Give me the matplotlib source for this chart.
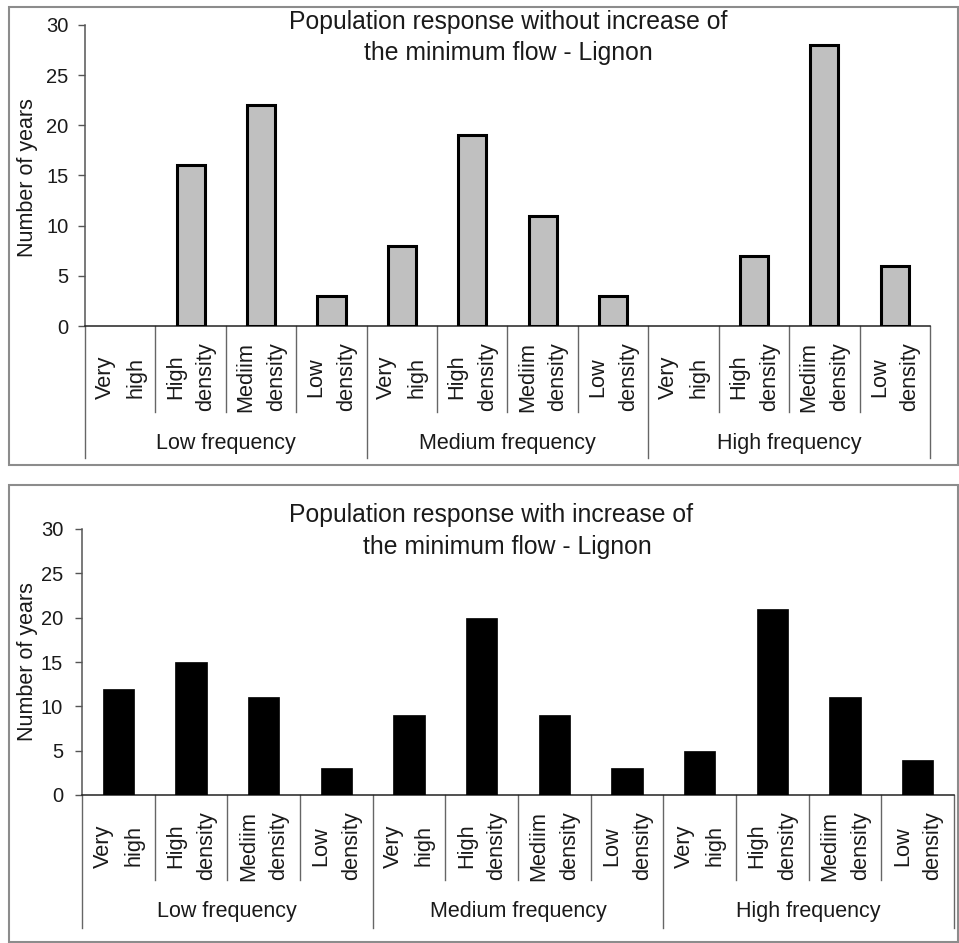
import matplotlib
matplotlib.use('Agg')
import matplotlib.pyplot as plt
from matplotlib.patches import Rectangle
from matplotlib.transforms import blended_transform_factory

# Number of years per category (12 categories: 4 density classes x 3 frequencies)
categories = ['Very\nhigh', 'High\ndensity', 'Mediim\ndensity', 'Low\ndensity'] * 3
groups = ['Low frequency', 'Medium frequency', 'High frequency']
without_increase = [0, 16, 22, 3, 8, 19, 11, 3, 0, 7, 28, 6]
with_increase = [12, 15, 11, 3, 9, 20, 9, 3, 5, 21, 11, 4]

titles = [('Population response without increase of', 'the minimum flow - Lignon'),
          ('Population response with increase of', 'the minimum flow - Lignon')]

plt.rcParams['font.family'] = ['Liberation Sans', 'DejaVu Sans']
TXT = '#1a1a1a'

W, H = 959, 943
fig = plt.figure(figsize=(W / 100, H / 100), dpi=100)


def fx(px):
    return px / W


def fy(py):
    return 1 - py / H


# layout of each panel in pixels
panels = [
    dict(values=without_increase, color='#c0c0c0', edge='black', lw=2.2, width=0.40,
         box=(9, 7, 958, 465), left=85, right=930, top=25, base=326,
         cat_end=412, grp_end=458, tick_y=377, grp_y=443, ylab_y=178,
         title_pos=[(508, 22), (508, 53)], pad=7),
    dict(values=with_increase, color='black', edge='black', lw=0.5, width=0.43,
         box=(9, 485, 958, 942), left=82, right=954, top=529, base=795,
         cat_end=880, grp_end=928, tick_y=846, grp_y=912, ylab_y=662,
         title_pos=[(491, 515), (507, 547)], pad=8.5),
]

for p, title in zip(panels, titles):
    x0, y0, x1, y1 = p['box']
    fig.patches.append(Rectangle((fx(x0), fy(y1)), fx(x1) - fx(x0), (y1 - y0) / H,
                                 transform=fig.transFigure, fill=False,
                                 edgecolor='#8c8c8c', linewidth=1.5))

    ax = fig.add_axes([fx(p['left']), fy(p['base']),
                       fx(p['right']) - fx(p['left']), (p['base'] - p['top']) / H])
    x = [i + 0.5 for i in range(len(categories))]
    lws = [p['lw'] if v > 0 else 0 for v in p['values']]
    ax.bar(x, p['values'], width=p['width'], color=p['color'],
           edgecolor=p['edge'], linewidth=lws, zorder=3)

    ax.set_xlim(0, len(categories))
    ax.set_ylim(0, 30)
    ax.set_yticks(range(0, 31, 5))
    ax.set_xticks([])
    for s in ['top', 'right']:
        ax.spines[s].set_visible(False)
    ax.spines['left'].set_color('#555555')
    ax.spines['left'].set_linewidth(1.1)
    ax.spines['bottom'].set_color('#222222')
    ax.spines['bottom'].set_linewidth(1.1)
    ax.tick_params(axis='y', length=5, width=1, color='#555555',
                   labelsize=14.5, labelcolor=TXT, pad=p['pad'])
    ax.set_facecolor('none')

    # category and group separators below the axis
    tr = blended_transform_factory(ax.transData, fig.transFigure)
    for i in range(len(categories) + 1):
        end = p['grp_end'] if i % 4 == 0 else p['cat_end']
        ax.plot([i, i], [fy(p['base']), fy(end)], transform=tr, color='#666666',
                linewidth=1.0, clip_on=False)

    for i, lab in enumerate(categories):
        ax.text(i + 0.5, fy(p['tick_y']), lab, transform=tr, rotation=90,
                ha='center', va='center', multialignment='center',
                linespacing=1.6, fontsize=15.7, color=TXT)

    for g, name in enumerate(groups):
        ax.text(g * 4 + 2, fy(p['grp_y']), name, transform=tr,
                ha='center', va='center', fontsize=15.5, color=TXT)

    fig.text(fx(28), fy(p['ylab_y']), 'Number of years', rotation=90,
             ha='center', va='center', fontsize=15.5, color=TXT)

    for line, (tx, ty) in zip(title, p['title_pos']):
        fig.text(fx(tx), fy(ty), line, ha='center', va='center',
                 fontsize=17.8, color=TXT)

fig.savefig('out.png', dpi=100)
